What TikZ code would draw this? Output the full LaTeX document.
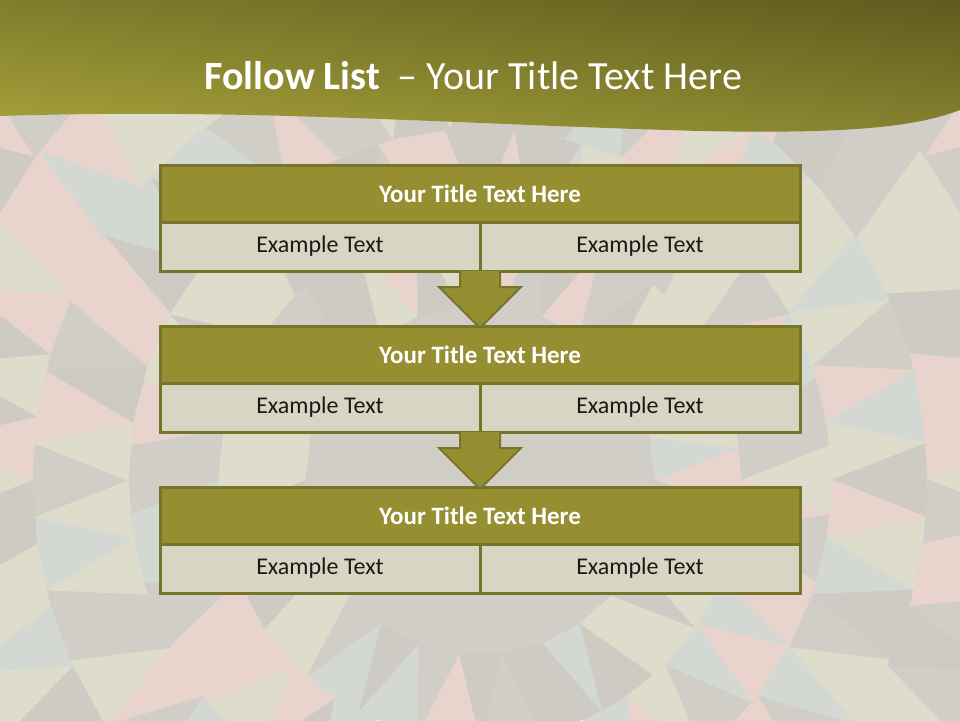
\documentclass[tikz,border=0pt]{standalone}
\usepackage{fontspec}
\setmainfont{Carlito}
\usepackage{tikz}
\usetikzlibrary{positioning, calc, shadings}

\definecolor{bg0}{HTML}{E8D3CD}
\definecolor{bg1}{HTML}{D0CEC7}
\definecolor{bg2}{HTML}{D3D8D3}
\definecolor{bg3}{HTML}{DEDDCB}
\definecolor{bg4}{HTML}{CDCBC4}
\definecolor{hdrLight}{HTML}{A7A33A}
\definecolor{hdrMid}{HTML}{86822F}
\definecolor{hdrDark}{HTML}{5E5B1E}
\definecolor{oliveFill}{HTML}{958F31}
\definecolor{oliveLine}{HTML}{77752B}
\definecolor{cellFill}{HTML}{D7D6C3}

\begin{document}
\begin{tikzpicture}[x=1pt, y=-1pt]
                        \tikzset{
                            stephead/.style={
                                    rectangle, draw=oliveLine, line width=3pt, fill=oliveFill,
                                    minimum width=640pt, minimum height=57pt, outer sep=0pt,
                                    text=white, font=\fontsize{25}{30}\selectfont\bfseries
                                },
                            stepcell/.style={
                                    rectangle, draw=oliveLine, line width=3pt, fill=cellFill,
                                    minimum width=320pt, minimum height=49pt, outer sep=0pt,
                                    text=black!90, font=\fontsize{24}{28}\selectfont
                                },
                            flow arrow/.style={
                                    draw=oliveLine, line width=2pt, fill=oliveFill, line join=miter
                                }
                        }

                        \useasboundingbox (0,0) rectangle (960,720);
                        \clip (0,0) rectangle (960,720);

                        % Background pattern
                        \pgfmathsetseed{31}
                        \fill[bg3] (0,0) rectangle (960,720);
                        \begin{scope}[shift={(480,480)}]
                            \fill[bg1] (0,0) circle (176);
                            \foreach \ri/\ro/\n [count=\k] in {175/262/26, 262/352/32, 352/448/38, 448/550/44, 550/660/50, 660/790/56} {
                                \foreach \j in {1,...,\n} {
                                    \pgfmathsetmacro\aa{360/\n*\j}
                                    \pgfmathsetmacro\bb{360/\n*(\j+1)}
                                    \pgfmathsetmacro\ca{\aa+180/\n}
                                    \pgfmathsetmacro\cb{\bb+180/\n}
                                    \pgfmathrandominteger\cu{0}{4}
                                    \pgfmathrandominteger\cd{0}{4}
                                    \filldraw[fill=bg\cu, draw=bg\cu, line width=0.6pt] (\aa:\ri) -- (\bb:\ri) -- (\ca:\ro) -- cycle;
                                    \filldraw[fill=bg\cd, draw=bg\cd, line width=0.6pt] (\ca:\ro) -- (\cb:\ro) -- (\bb:\ri) -- cycle;
                                }
                            }
                        \end{scope}

                        % Header band
                        \shade[lower left=hdrLight, upper left=hdrMid!85!hdrDark, lower right=hdrMid, upper right=hdrDark]
                        (0,0) -- (960,0) -- (960,110) .. controls (915,127) and (850,134) .. (700,131)
                        .. controls (450,124) and (250,108) .. (0,116) -- cycle;
                        \node[anchor=west, text=white, font=\fontsize{40}{46}\selectfont] (title) at (201,76)
                            {\textbf{Follow List}\hspace{18pt}– Your Title Text Here};

                        % Steps
                        \node[stephead] (head1) at (480,193.5) {Your Title Text Here};
                        \node[stepcell, below right=0pt of head1.south west] (left1) {Example Text};
                        \node[stepcell, below left=0pt of head1.south east] (right1) {Example Text};

                        \node[stephead, below=104pt of head1] (head2) {Your Title Text Here};
                        \node[stepcell, below right=0pt of head2.south west] (left2) {Example Text};
                        \node[stepcell, below left=0pt of head2.south east] (right2) {Example Text};

                        \node[stephead, below=104pt of head2] (head3) {Your Title Text Here};
                        \node[stepcell, below right=0pt of head3.south west] (left3) {Example Text};
                        \node[stepcell, below left=0pt of head3.south east] (right3) {Example Text};

                        % Flow arrows
                        \foreach \a/\b in {1/2, 2/3} {
                            \draw[flow arrow] ($(right\a.south west)+(-20,0)$) -- ++(0,16) -- ++(-21,0)
                            -- ($(head\b.north)+(0,2)$) -- ($(right\a.south west)+(41,16)$) -- ++(-21,0)
                            -- ($(right\a.south west)+(20,0)$);
                        }
                    \end{tikzpicture}
\end{document}
